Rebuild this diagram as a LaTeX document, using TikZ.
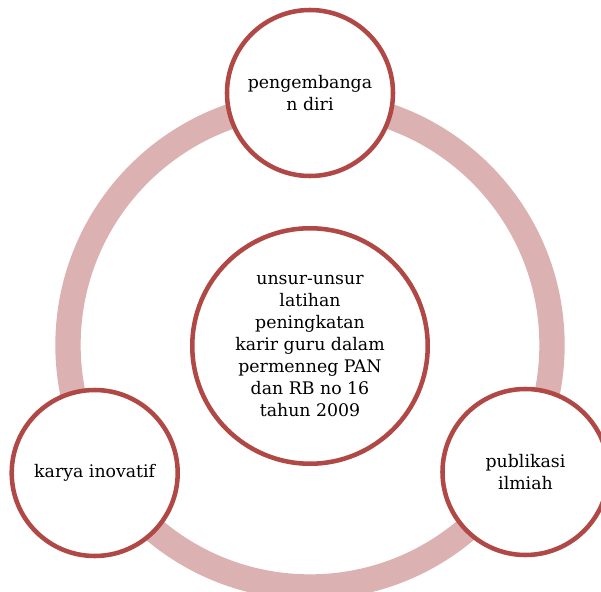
\documentclass[tikz,border=0pt]{standalone}
\usepackage{fontspec}
\setmainfont{DejaVu Serif}
\definecolor{ringpink}{RGB}{220,177,177}
\definecolor{rimred}{RGB}{176,72,70}

\begin{document}
\begin{tikzpicture}[x=0.75pt, y=-0.75pt,
  bubble/.style={circle, draw=rimred, line width=3.4pt, fill=white,
    align=center, inner sep=0pt, text=black,
    font=\fontsize{13pt}{16.5pt}\selectfont}]
\useasboundingbox (0,0) rectangle (601,592);

% ring behind the circles
\draw[ringpink, line width=19pt] (310,345) circle (242);

\node[bubble, minimum size=176.6pt] (core) at (310,346)
  {unsur-unsur\\latihan\\peningkatan\\karir guru dalam\\permenneg PAN\\dan RB no 16\\tahun 2009};

\node[bubble, minimum size=124.5pt] (diri) at (310,93) {pengembanga\\n diri};
\node[bubble, minimum size=124.5pt] (karya) at (94.7,473) {karya inovatif};
\node[bubble, minimum size=124.5pt] (publik) at (525.5,472) {publikasi\\ilmiah};

\end{tikzpicture}
\end{document}
